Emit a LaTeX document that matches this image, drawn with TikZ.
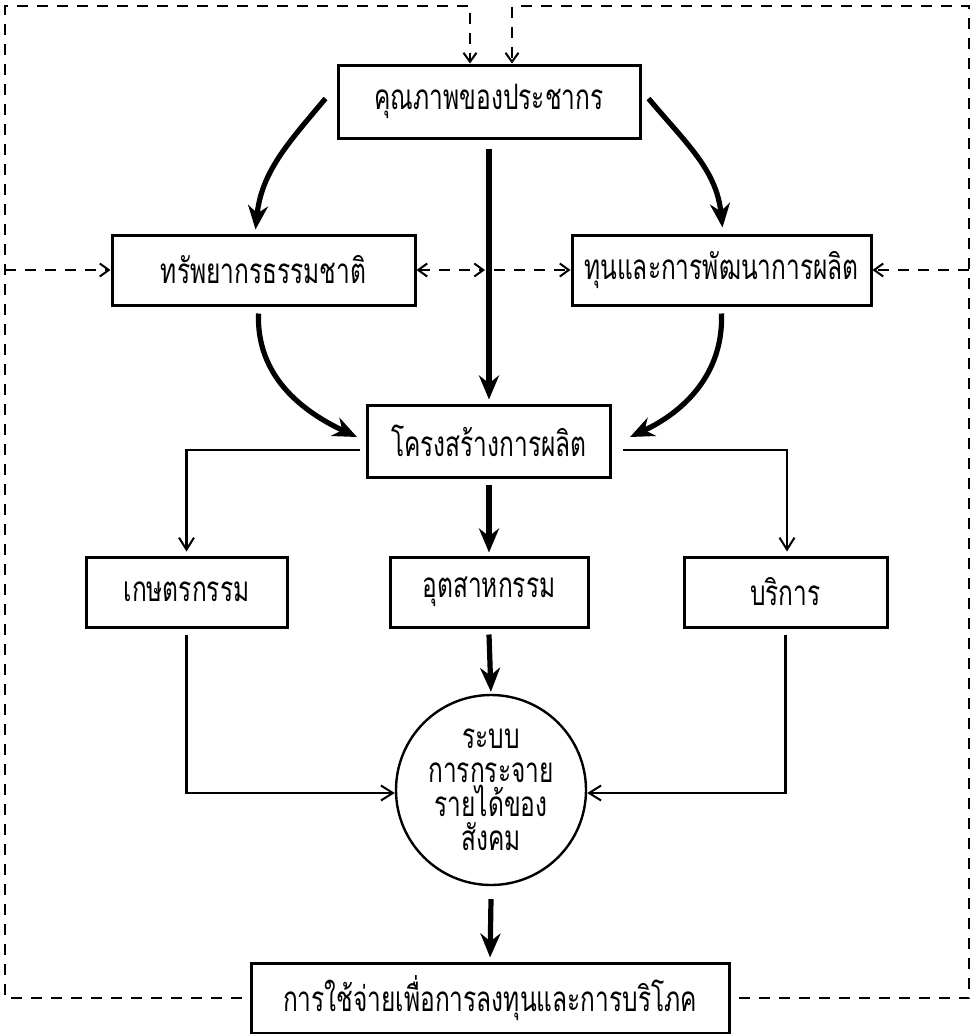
\documentclass[tikz,border=0pt]{standalone}
\usepackage{fontspec}
\newfontfamily\thai[Script=Thai,FakeStretch=0.7]{Loma}
\usetikzlibrary{arrows.meta}
\begin{document}
\begin{tikzpicture}[x=1pt,y=-1pt,
  txt/.style={font=\thai\fontsize{35}{34}\selectfont},
  box/.style={txt, draw, line width=3pt, inner sep=0pt},
  thin/.style={line width=2.2pt, -{Straight Barb[length=12pt,width=15pt,line width=2pt]}},
  thickarr/.style={line width=5.2pt, -{Stealth[length=24pt,width=20pt]}},
  dashline/.style={line width=2.2pt, dash pattern=on 11pt off 9pt},
  dtip/.style={-{Straight Barb[length=9pt,width=13pt,line width=2pt]}},
]
\useasboundingbox[fill=white] (0,0) rectangle (976,1034);

% nodes
\node[box, minimum width=302pt, minimum height=73pt] (q)   at (489,101.5) {คุณภาพของประชากร};
\node[box, minimum width=303pt, minimum height=70pt] (nat) at (263.5,270) {ทรัพยากรธรรมชาติ};
\node[box, minimum width=299pt, minimum height=70pt] (cap) at (721.5,270) {ทุนและการพัฒนาการผลิต};
\node[box, minimum width=243pt, minimum height=72pt] (ps)  at (489,441) {โครงสร้างการผลิต};
\node[box, minimum width=201pt, minimum height=70pt] (agr) at (186.5,592) {เกษตรกรรม};
\node[box, minimum width=198pt, minimum height=70pt] (ind) at (489,592) {อุตสาหกรรม};
\node[box, minimum width=203pt, minimum height=70pt] (svc) at (785.5,592) {บริการ};
\node[txt, draw, circle, line width=2.4pt, minimum size=190pt, inner sep=0pt, align=center] (circ) at (491,790)
  {ระบบ\\การกระจาย\\รายได้ของ\\สังคม};
\node[box, minimum width=478pt, minimum height=70pt] (exp) at (490,998) {การใช้จ่ายเพื่อการลงทุนและการบริโภค};

% frame corners
\coordinate (tl) at (5,6);
\coordinate (tr) at (969,6);

% thick solid connectors
\draw[thickarr] ([yshift=-9pt]q.south) -- ([yshift=4pt]ps.north);
\draw[thickarr] ([xshift=-11pt,yshift=3pt]q.west) to[out=230, in=84] ([xshift=-8pt,yshift=4pt]nat.north);
\draw[thickarr] ([xshift=7pt,yshift=3pt]q.east) to[out=-50, in=96] ([xshift=1pt,yshift=6pt]cap.north);
\draw[thickarr] ([xshift=-5pt,yshift=-7pt]nat.south) to[out=-92, in=155] ([xshift=-9pt,yshift=4pt]ps.west);
\draw[thickarr] ([xshift=0pt,yshift=-7pt]cap.south) to[out=-88, in=25] ([xshift=18pt,yshift=4pt]ps.east);
\draw[thickarr, shorten >=3pt] ([yshift=-6pt]ps.south) -- (ind.north);
\draw[thickarr, shorten >=2pt] ([yshift=-6pt]ind.south) -- (circ.north);
\draw[thickarr, shorten >=4pt] ([yshift=-13pt]circ.south) -- (exp.north);

% thin solid connectors
\draw[thin, shorten >=4pt] ([xshift=-6pt,yshift=-9pt]ps.west) -| (agr.north);
\draw[thin, shorten >=4pt] ([xshift=11pt,yshift=-9pt]ps.east) -| ([xshift=1.5pt]svc.north);
\draw[thin] ([yshift=-6pt]agr.south) |- ([yshift=-3pt]circ.west);
\draw[thin] ([yshift=-6pt]svc.south) |- ([yshift=-3pt]circ.east);

% dashed feedback loops
\draw[dashline, dtip, shorten <=8pt] (exp.west) -- (exp.west -| tl) -- (tl)
  -- ([xshift=-19pt]q.north |- tl) -- ([xshift=-19pt]q.north);
\draw[dashline, dtip, shorten <=8pt] (exp.east) -- (exp.east -| tr) -- (tr)
  -- ([xshift=23pt]q.north |- tr) -- ([xshift=23pt]q.north);
\draw[dashline, dtip] (tl |- nat.west) -- (nat.west);
\draw[dashline, dtip] (tr |- cap.east) -- (cap.east);
\coordinate (cl) at (q.south |- nat.east);
\draw[dashline, {Straight Barb[length=9pt,width=13pt,line width=2pt]}-{Straight Barb[length=9pt,width=13pt,line width=2pt]}]
  (nat.east) -- ([xshift=-4pt]cl);
\draw[dashline, dtip] ([xshift=5pt]cl) -- (cap.west);
\end{tikzpicture}
\end{document}
